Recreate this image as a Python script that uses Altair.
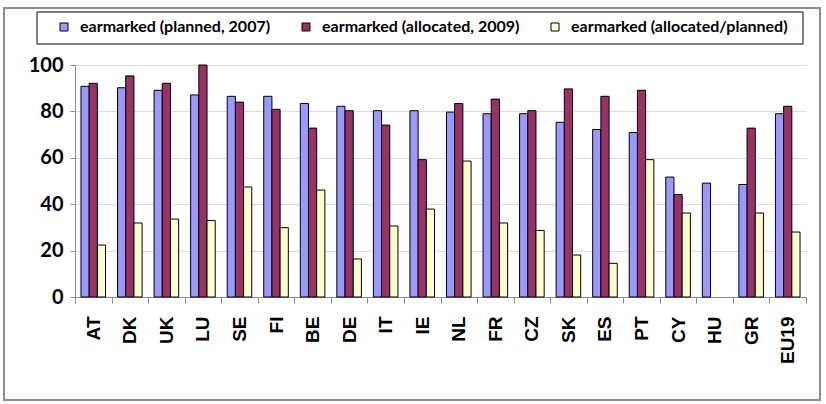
import altair as alt
import pandas as pd

# Earmarked shares by country (percent)
countries = ["AT", "DK", "UK", "LU", "SE", "FI", "BE", "DE", "IT", "IE",
             "NL", "FR", "CZ", "SK", "ES", "PT", "CY", "HU", "GR", "EU19"]
planned_2007 = [90.8, 90.2, 89.1, 87.1, 86.5, 86.5, 83.4, 82.2, 80.3, 80.3,
                79.7, 79.0, 79.0, 75.3, 72.2, 70.9, 51.7, 49.1, 48.5, 79.0]
allocated_2009 = [92.1, 95.3, 92.1, 100.0, 84.0, 80.9, 72.8, 80.3, 74.1, 59.2,
                  83.4, 85.3, 80.3, 89.7, 86.5, 89.1, 44.2, None, 72.8, 82.2]
allocated_over_planned = [22.4, 31.9, 33.6, 33.0, 47.4, 29.9, 46.1, 16.4, 30.6, 37.9,
                          58.6, 31.9, 28.7, 18.1, 14.5, 59.2, 36.2, None, 36.2, 28.0]

series = ["earmarked (planned, 2007)",
          "earmarked (allocated, 2009)",
          "earmarked (allocated/planned)"]
colors = ["#9999FF", "#993366", "#FFFFCC"]

rows = []
for name, values in zip(series, [planned_2007, allocated_2009, allocated_over_planned]):
    for c, v in zip(countries, values):
        if v is not None:
            rows.append({"country": c, "series": name, "value": v})
df = pd.DataFrame(rows)

bars = alt.Chart(df).mark_bar(stroke="black", strokeWidth=1).encode(
    x=alt.X(
        "country:N", sort=countries, title=None,
        scale=alt.Scale(paddingInner=0, paddingOuter=0),
        axis=alt.Axis(
            labelAngle=270, labelAlign="right", labelBaseline="middle",
            labelFont="Liberation Sans", labelFontWeight="bold", labelFontSize=19,
            labelColor="black", labelPadding=13,
            tickBand="extent", tickSize=6, tickColor="#8c8c8c",
            domainColor="#8c8c8c", grid=False,
        ),
    ),
    xOffset=alt.XOffset(
        "series:N", sort=series,
        scale=alt.Scale(domain=series, paddingInner=0, paddingOuter=0.73),
    ),
    y=alt.Y(
        "value:Q", title=None,
        scale=alt.Scale(domain=[0, 100]),
        axis=alt.Axis(
            values=[0, 20, 40, 60, 80, 100],
            labelFont="Lato", labelFontWeight="bold", labelFontSize=20,
            labelColor="black", labelPadding=7,
            tickSize=5, tickColor="#8c8c8c", domainColor="#8c8c8c",
            gridColor="#dcdcdc", gridWidth=1,
        ),
    ),
    color=alt.Color(
        "series:N", sort=series,
        scale=alt.Scale(domain=series, range=colors),
        legend=alt.Legend(
            title=None, orient="none", legendX=-19, legendY=-46,
            direction="horizontal", columns=3,
            labelFont="Lato", labelFontWeight="bold", labelFontSize=16,
            labelColor="black", labelOffset=8, columnPadding=27, labelLimit=400,
            symbolType="square", symbolSize=64,
            symbolStrokeColor="black", symbolStrokeWidth=1,
            padding=0,
        ),
    ),
)

one_row = pd.DataFrame({"k": [0]})

# Outer border around the whole figure
frame = alt.Chart(one_row).mark_rect(
    fill="transparent", stroke="#8c8c8c", strokeWidth=2
).encode(
    x=alt.value(-71), x2=alt.value(745),
    y=alt.value(-57), y2=alt.value(335),
)

# Box drawn around the legend entries
legend_box = alt.Chart(one_row).mark_rect(
    fill="transparent", stroke="black", strokeWidth=1
).encode(
    x=alt.value(-38), x2=alt.value(728),
    y=alt.value(-53), y2=alt.value(-21),
)

chart = alt.layer(frame, legend_box, bars).properties(
    width=731, height=232,
    autosize=alt.AutoSizeParams(type="none"),
    padding={"left": 75, "top": 65, "right": 20, "bottom": 107},
    background="white",
).configure_view(stroke="transparent")

chart.save("out.html", embed_options={"renderer": "svg", "actions": False})
